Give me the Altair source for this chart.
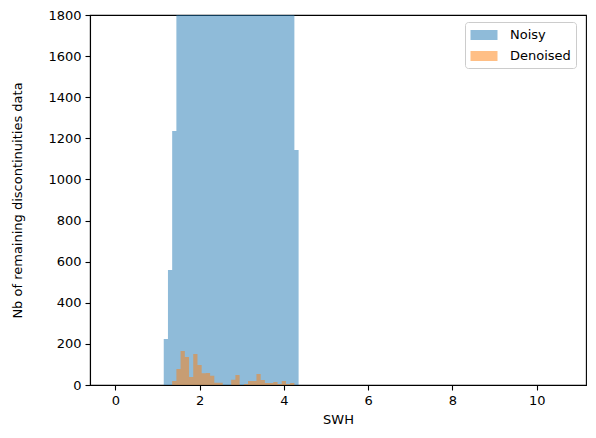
import altair as alt
import pandas as pd

# Noisy histogram: 32 bins of width 0.1 starting at 1.15 (most bins exceed the 1800 y-limit)
noisy_start = 1.15
noisy_width = 0.1
noisy_counts = [224, 559, 1236, 2100, 2900, 3500, 3900, 4100, 4000, 3800, 3600, 3400,
                3200, 3000, 2900, 2800, 2700, 2600, 2550, 2500, 2450, 2400, 2350, 2300,
                2250, 2200, 2150, 2100, 2050, 2000, 1950, 1143]

# Denoised histogram: 29 bins of width 0.1 starting at 1.35
den_start = 1.35
den_width = 0.1
den_counts = [19, 78, 165, 136, 39, 151, 97, 57, 58, 45, 11, 11, 0, 0, 26, 49,
              0, 5, 19, 19, 54, 24, 10, 10, 15, 5, 19, 5, 10]

series_names = ["Noisy", "Denoised"]
series_colors = ["#1f77b4", "#ff7f0e"]
x_ticks = [0, 2, 4, 6, 8, 10]
y_ticks = [0, 200, 400, 600, 800, 1000, 1200, 1400, 1600, 1800]


def make_df(name, start, width, counts):
    # step outline of a histogram: one point per bin left edge, plus the final right edge
    rows = []
    for i, c in enumerate(counts):
        rows.append({"series": name, "edge": round(start + i * width, 4), "count": c})
    rows.append({"series": name, "edge": round(start + len(counts) * width, 4),
                 "count": counts[-1]})
    return pd.DataFrame(rows)


df_noisy = make_df("Noisy", noisy_start, noisy_width, noisy_counts)
df_den = make_df("Denoised", den_start, den_width, den_counts)

font = "DejaVu Sans"

x_enc = alt.X("edge:Q", title="SWH",
              scale=alt.Scale(domain=[-0.6, 11.17], nice=False, zero=False),
              axis=alt.Axis(values=x_ticks, format="d", grid=False, tickSize=5,
                            labelPadding=4, titlePadding=6))
y_enc = alt.Y("count:Q", title="Nb of remaining discontinuities data", stack=None,
              scale=alt.Scale(domain=[0, 1800], nice=False),
              axis=alt.Axis(values=y_ticks, format="d", grid=False, tickSize=5,
                            labelPadding=4, titlePadding=23))
color_enc = alt.Color("series:N",
                      scale=alt.Scale(domain=series_names, range=series_colors),
                      sort=series_names,
                      legend=alt.Legend(title=None, orient="none", legendX=375, legendY=7,
                                        symbolType="M-1.6875,-0.625L1.6875,-0.625L1.6875,0.625L-1.6875,0.625Z",
                                        symbolSize=256, symbolOpacity=0.5,
                                        symbolStrokeWidth=0,
                                        symbolOffset=6,
                                        labelOffset=18, rowPadding=6,
                                        padding=5, fillColor="white",
                                        strokeColor="#cccccc", cornerRadius=3,
                                        labelFontSize=13, labelFont=font,
                                        labelColor="black"))

noisy = alt.Chart(df_noisy).mark_area(opacity=0.5, clip=True, interpolate="step-after").encode(
    x=x_enc, y=y_enc, color=color_enc)
den = alt.Chart(df_den).mark_area(opacity=0.5, clip=True, interpolate="step-after").encode(
    x=alt.X("edge:Q"), y=alt.Y("count:Q", stack=None), color=alt.Color("series:N"))

chart = alt.layer(noisy, den).properties(
    width=496, height=370,
    autosize=alt.AutoSizeParams(type="none"),
    padding={"left": 82, "top": 7, "right": 2, "bottom": 45},
).configure_view(stroke="black", strokeWidth=1.1).configure_axis(
    domainColor="black", tickColor="black", labelColor="black", titleColor="black",
    labelFont=font, titleFont=font, labelFontSize=13, titleFontSize=13,
    titleFontWeight="normal", domainWidth=1.1, tickWidth=1.1
)

chart.save("out.html", embed_options={"renderer": "svg", "actions": False})
